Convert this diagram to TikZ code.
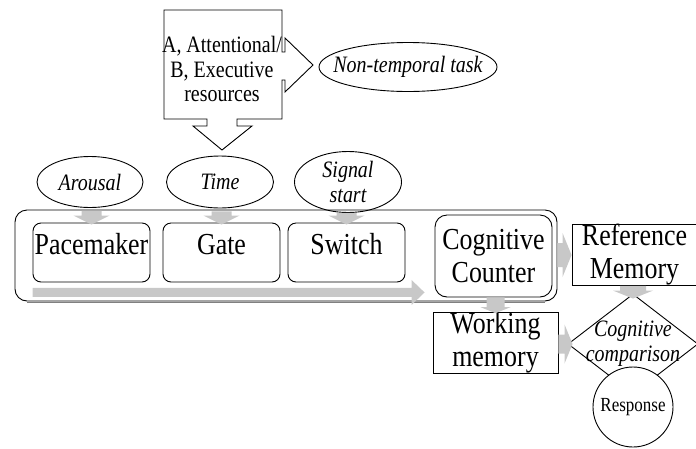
\documentclass[tikz,border=0pt]{standalone}
\usepackage{fontspec}
\setmainfont{Liberation Serif}[FakeStretch=0.85]
\usetikzlibrary{shapes.geometric,calc}
\definecolor{arrowgray}{RGB}{200,200,200}
\newcommand\gdown[5]{%
  \fill[arrowgray] let \p1=(#1), \p2=(#2) in
   (\x2-#3,\y1) -- (\x2+#3,\y1) -- (\x2+#3,\y2+#5) -- (\x2+#4,\y2+#5) -- (\x2,\y2)
   -- (\x2-#4,\y2+#5) -- (\x2-#3,\y2+#5) -- cycle;}
\newcommand\gright[5]{%
  \fill[arrowgray] let \p1=(#1), \p2=(#2) in
   (\x1,\y2+#3) -- (\x1,\y2-#3) -- (\x2-#5,\y2-#3) -- (\x2-#5,\y2-#4) -- (\x2,\y2)
   -- (\x2-#5,\y2+#4) -- (\x2-#5,\y2+#3) -- cycle;}
\begin{document}
\begin{tikzpicture}[x=1pt,y=-1pt,
  line width=0.9pt,
  bigtxt/.style={font=\fontsize{30.5}{33}\selectfont},
  smalltxt/.style={font=\fontsize{23.5}{24.5}\selectfont},
  ital/.style={font=\fontsize{23.5}{25}\selectfont\itshape},
  rbox/.style={draw, rounded corners=8pt, inner sep=0pt, bigtxt, align=center},
  sbox/.style={draw, inner sep=0pt, bigtxt, align=center},
  oval/.style={draw, ellipse, inner sep=0pt, ital, align=center},
  onetxt/.style={text height=20pt, text depth=17pt},
]
\useasboundingbox (0,0) rectangle (696,448);
\clip (0,0) rectangle (696,448);

% callout with resources
\draw (164,10) -- (282,10) -- (282,52) -- (285,52) -- (285,38) -- (313,65)
  -- (285,92) -- (285,80) -- (282,80) -- (282,119) -- (237,119) -- (237,126)
  -- (252,126) -- (222,150) -- (193,126) -- (207,126) -- (207,119) -- (164,119) -- cycle;
\node[smalltxt, align=center, inner sep=0pt] (res) at (222,69)
  {A, Attentional/\\B, Executive\hspace*{12pt}\\resources};

\node[oval, inner xsep=-20pt, minimum width=178pt, minimum height=49pt] (ntt) at (408,67) {Non-temporal task};

\node[oval, minimum width=106pt, minimum height=51pt] (aro) at (90,182) {Arousal};
\node[oval, minimum width=107pt, minimum height=52pt] (tim) at (220,182) {Time};
\node[oval, inner ysep=-6pt, minimum width=107pt, minimum height=61pt] (sig) at (348,182) {Signal\\start};

% outer container
\draw[gray, line width=1.3pt] (27,302.3) -- (545,302.3);
\node[draw, rounded corners=12pt, minimum width=542pt, minimum height=91pt, inner sep=0pt] (outer) at (286,255.5) {};

\node[rbox, onetxt, minimum width=117pt, minimum height=59pt] (pace) at (91.5,252.5) {Pacemaker};
\node[rbox, onetxt, minimum width=117pt, minimum height=59pt] (gate) at (221.5,252.5) {Gate};
\node[rbox, onetxt, minimum width=117pt, minimum height=59pt] (swi) at (346.5,252.5) {Switch};
\node[rbox, rounded corners=12pt, minimum width=117pt, minimum height=82pt] (cc) at (493.5,256) {Cognitive\\Counter};

\node[sbox, minimum width=125pt, minimum height=58pt] (ref) at (634.5,255) {Reference\\Memory};
\node[sbox, minimum width=125pt, minimum height=60pt] (wm) at (495.5,343) {Working\\memory};

\node[draw, diamond, inner xsep=-30pt, inner ysep=-15pt, minimum width=130pt, minimum height=100pt, ital, align=center] (cmp) at (633,344) {Cognitive\\comparison};
\node[draw, circle, fill=white, minimum size=80pt, inner sep=0pt, font=\fontsize{20}{22}\selectfont] (resp) at (633,407) {Response};

% gray block arrows
\gdown{$(aro.south)+(0,3)$}{$(pace.north)+(0,2)$}{10pt}{18pt}{9pt}
\gdown{$(tim.south)+(0,3)$}{$(gate.north)+(0,2)$}{10pt}{18pt}{9pt}
\gdown{$(sig.south)+(0,0)$}{$(swi.north)+(0,2)$}{10pt}{18pt}{9pt}
\gdown{cc.south}{$(wm.north)+(0,1)$}{9pt}{15pt}{6pt}
\gdown{ref.south}{$(cmp.north)+(0,5)$}{13pt}{20pt}{8pt}
\coordinate (hs) at ($(pace.south west)+(0,10)$);
\coordinate (he) at ($(pace.south west -| cc.west)+(-10,10)$);
\gright{hs}{he}{4.5pt}{12.5pt}{13pt}
\gright{outer.east}{ref.west}{12pt}{22pt}{9pt}
\gright{wm.east}{$(cmp.west)+(5,0)$}{9.5pt}{19.5pt}{8pt}
\end{tikzpicture}
\end{document}
